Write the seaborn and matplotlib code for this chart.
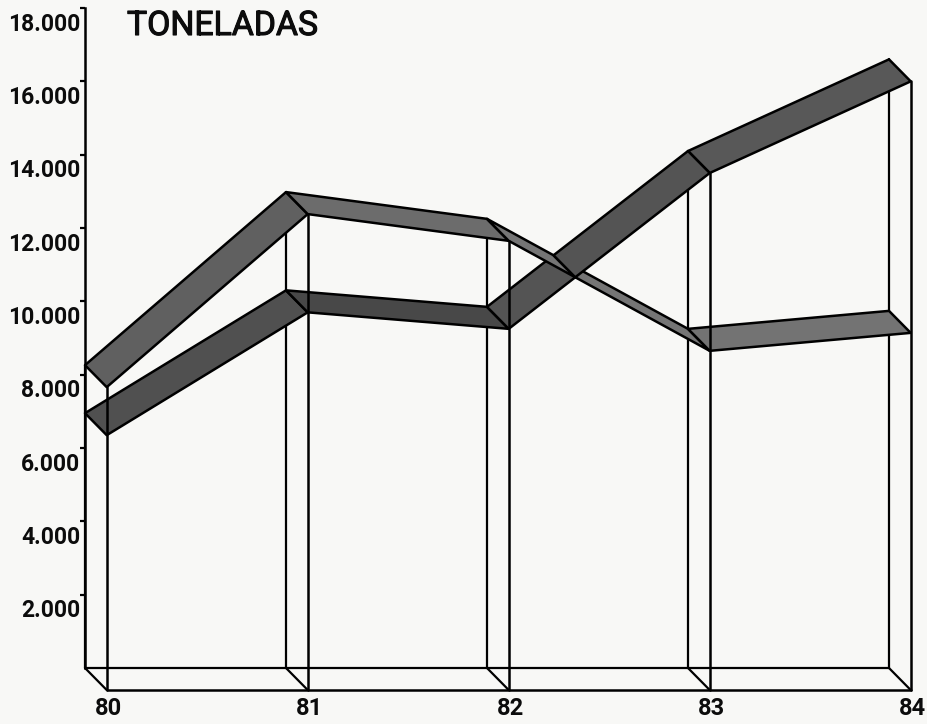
import numpy as np
import pandas as pd
import matplotlib
matplotlib.use("Agg")
import matplotlib.pyplot as plt
from matplotlib.transforms import ScaledTranslation
import matplotlib.patheffects as pe
import seaborn as sns

years = [80, 81, 82, 83, 84]
series_a = [8260, 12980, 12250, 9250, 9740]
series_b = [6950, 10300, 9850, 14100, 16600]
shade_a = ["#606060", "#6c6c6c", "#757575", "#737373"]
shade_b = ["#505050", "#484848", "#545454", "#585858"]
value_ticks = [2000, 4000, 6000, 8000, 10000, 12000, 14000, 16000, 18000]
value_labels = ["2.000", "4.000", "6.000", "8.000", "10.000", "12.000", "14.000", "16.000", "18.000"]
year_labels = ["80", "81", "82", "83", "84"]
title_text = "TONELADAS"

PAPER = "#f8f8f6"
INK = "#0c0c0c"
DEPTH_X = 0.108
DEPTH_Y = -600
W, H = 928, 724

sns.set_theme(style="white")
plt.rcParams["font.family"] = ["Roboto", "DejaVu Sans"]
fig = plt.figure(figsize=(W / 100, H / 100), dpi=100, facecolor=PAPER)
ax = fig.add_axes([0, 0, 1, 1], facecolor=PAPER)

# scales: back plane origin at pixel (85, 668); 201 px per year; 73.33 px per 2000 t
px_year = 201.0
px_val = 73.33 / 2000
ax.set_xlim(80 - 85 / px_year, 80 + (W - 85) / px_year)
ax.set_ylim(-(H - 668) / px_val, 668 / px_val)

years_arr = np.array(years, dtype=float)
a = np.array(series_a, dtype=float)
b = np.array(series_b, dtype=float)


def quad(x0, v0, x1, v1, color, z):
    ax.fill([x0, x1, x1 + DEPTH_X, x0 + DEPTH_X],
            [v0, v1, v1 + DEPTH_Y, v0 + DEPTH_Y],
            facecolor=color, edgecolor="black", linewidth=1.8,
            joinstyle="round", zorder=z)


# frame lines, built from the data through a long table
top = np.maximum(a, b)
rows = []
for i, yr in enumerate(years):
    rows += [dict(x=yr, y=0, part=f"back{i}"), dict(x=yr, y=top[i], part=f"back{i}")]
    rows += [dict(x=yr, y=0, part=f"diag{i}"), dict(x=yr + DEPTH_X, y=DEPTH_Y, part=f"diag{i}")]
rows += [dict(x=years[0], y=0, part="baseback"), dict(x=years[-1], y=0, part="baseback")]
back_df = pd.DataFrame(rows)
sns.lineplot(data=back_df, x="x", y="y", units="part", estimator=None, sort=False,
             color="black", linewidth=1.6, legend=False, ax=ax, zorder=1)

# ribbons, with the crossing of the 82-83 segment split so the higher one hides the lower
for i in range(4):
    x0, x1 = years_arr[i], years_arr[i + 1]
    d0, d1 = a[i] - b[i], a[i + 1] - b[i + 1]
    if d0 * d1 < 0:
        t = d0 / (d0 - d1)
        xc = x0 + t * (x1 - x0)
        vc = a[i] + t * (a[i + 1] - a[i])
        quad(x0, b[i], xc, vc, shade_b[i], 3.0)
        quad(x0, a[i], xc, vc, shade_a[i], 3.1)
        quad(xc, vc, x1, a[i + 1], shade_a[i], 3.0)
        quad(xc, vc, x1, b[i + 1], shade_b[i], 3.1)
    else:
        quad(x0, b[i], x1, b[i + 1], shade_b[i], 3.0)
        quad(x0, a[i], x1, a[i + 1], shade_a[i], 3.0)

# front verticals and front base line, over the ribbons
rows = []
for i, yr in enumerate(years):
    rows += [dict(x=yr + DEPTH_X, y=DEPTH_Y, part=f"front{i}"),
             dict(x=yr + DEPTH_X, y=top[i] + DEPTH_Y, part=f"front{i}")]
rows += [dict(x=years[0] + DEPTH_X, y=DEPTH_Y, part="basefront"),
         dict(x=years[-1] + DEPTH_X, y=DEPTH_Y, part="basefront")]
front_df = pd.DataFrame(rows)
sns.lineplot(data=front_df, x="x", y="y", units="part", estimator=None, sort=False,
             color="black", linewidth=1.8, legend=False, ax=ax, zorder=4)

ax.set_xlabel("")
ax.set_ylabel("")
for side in ["top", "right", "bottom"]:
    ax.spines[side].set_visible(False)
ax.spines["left"].set_position(("data", 80))
ax.spines["left"].set_bounds(0, 18000)
ax.spines["left"].set_linewidth(1.8)
ax.spines["left"].set_color("black")
ax.spines["left"].set_zorder(2)

ax.set_yticks(value_ticks)
ax.set_yticklabels(value_labels)
ax.tick_params(axis="y", which="major", left=True, length=3.5, width=1.6, color="black",
               pad=0, labelsize=16.5, labelcolor=INK)
shift = ScaledTranslation(0, -16 / 100, fig.dpi_scale_trans)
for lab in ax.get_yticklabels():
    lab.set_transform(lab.get_transform() + shift)
    lab.set_fontweight("bold")
    lab.set_va("center")

ax.set_xticks(years_arr + DEPTH_X)
ax.tick_params(axis="x", which="major", bottom=False, labelbottom=False)

# year labels sit just under the front base line
for yr, txt in zip(years_arr + DEPTH_X, year_labels):
    ax.annotate(txt, xy=(yr, DEPTH_Y), xytext=(1.5, -13.5), textcoords="offset points",
                ha="center", va="center", fontsize=17, fontweight="bold",
                color=INK, annotation_clip=False)

title = ax.annotate(title_text, xy=(127 / W, 1 - 26 / H), xycoords="axes fraction",
                    ha="left", va="center", fontsize=24.3, color=INK)
title.set_path_effects([pe.withStroke(linewidth=0.8, foreground=INK)])

fig.savefig("out.png", dpi=100, facecolor=PAPER)
